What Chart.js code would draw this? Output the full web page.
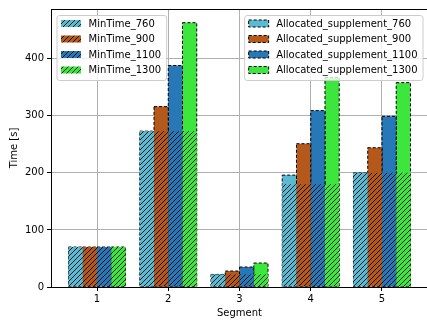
<!DOCTYPE html>
<html>
<head>
<meta charset="utf-8">
<script src="https://cdn.jsdelivr.net/npm/chart.js@4"></script>
<style>
  html, body { margin: 0; padding: 0; background: #fff; }
  #wrap { width: 427px; height: 322px; overflow: hidden; }
</style>
</head>
<body>
<div id="wrap"><canvas id="chart" width="435" height="322"></canvas></div>
<script>
const segments = [1, 2, 3, 4, 5];
const yTicks = [0, 100, 200, 300, 400];
const trains = ['760', '900', '1100', '1300'];
const colors = ['#5bbad2', '#b5581c', '#2878b7', '#3ce63c'];

// minimum running time per segment
const minTime760 = [70, 273, 22, 180, 200];
const minTime900 = [70, 273, 22, 180, 200];
const minTime1100 = [70, 273, 22, 180, 200];
const minTime1300 = [70, 273, 22, 180, 200];

// running time with the allocated supplement
const alloc760 = [70, 273, 22, 196, 200];
const alloc900 = [70, 316, 28, 251, 244];
const alloc1100 = [70, 388, 35, 309, 299];
const alloc1300 = [70, 463, 42, 367, 358];

const minTimes = [minTime760, minTime900, minTime1100, minTime1300];
const allocs = [alloc760, alloc900, alloc1100, alloc1300];

const FONT = '10px "DejaVu Sans"';
Chart.defaults.font.family = '"DejaVu Sans"';
Chart.defaults.font.size = 10;
Chart.defaults.color = '#000';

// "///" hatch on top of a fill colour
function hatch(color) {
    const p = 5;
    const c = document.createElement('canvas');
    c.width = p; c.height = p;
    const g = c.getContext('2d');
    g.fillStyle = color;
    g.fillRect(0, 0, p, p);
    g.strokeStyle = '#000';
    g.lineWidth = 0.85;
    g.beginPath();
    g.moveTo(-1, p + 1); g.lineTo(p + 1, -1);
    g.moveTo(-1, 1); g.lineTo(1, -1);
    g.moveTo(p - 1, p + 1); g.lineTo(p + 1, p - 1);
    g.stroke();
    return g.createPattern(c, 'repeat');
}

function points(arr) {
    return segments.map((s, i) => ({x: s, y: arr[i]}));
}

const datasets = [];
trains.forEach((t, i) => {
    datasets.push({
        label: 'MinTime_' + t,
        data: points(minTimes[i]),
        backgroundColor: hatch(colors[i]),
        borderWidth: 0,
        stack: t
    });
});
trains.forEach((t, i) => {
    datasets.push({
        label: 'Allocated_supplement_' + t,
        data: points(allocs[i]),
        backgroundColor: colors[i],
        borderWidth: 0,
        stack: t
    });
});

// dashed outline of the supplement bars, drawn before the hatched bars cover them
const dashedEdges = {
    id: 'dashedEdges',
    afterDatasetDraw(chart, args) {
        const ds = chart.data.datasets[args.index];
        if (!ds.label.startsWith('Allocated')) return;
        const ctx = chart.ctx;
        ctx.save();
        ctx.strokeStyle = '#000';
        ctx.lineWidth = 1;
        ctx.setLineDash([3, 2]);
        args.meta.data.forEach(bar => {
            const {x, y, base, width} = bar.getProps(['x', 'y', 'base', 'width'], true);
            ctx.strokeRect(x - width / 2, y, width, base - y);
        });
        ctx.restore();
    }
};

function roundRect(ctx, x, y, w, h, r) {
    ctx.beginPath();
    ctx.moveTo(x + r, y);
    ctx.lineTo(x + w - r, y);
    ctx.quadraticCurveTo(x + w, y, x + w, y + r);
    ctx.lineTo(x + w, y + h - r);
    ctx.quadraticCurveTo(x + w, y + h, x + w - r, y + h);
    ctx.lineTo(x + r, y + h);
    ctx.quadraticCurveTo(x, y + h, x, y + h - r);
    ctx.lineTo(x, y + r);
    ctx.quadraticCurveTo(x, y, x + r, y);
    ctx.closePath();
}

function drawLegend(ctx, items, anchorX, top, alignRight) {
    ctx.font = FONT;
    const pad = 4, hw = 20, hh = 7, gap = 8, step = 15.5;
    const tw = Math.max(...items.map(it => ctx.measureText(it.label).width));
    const w = pad + hw + gap + tw + pad + 1;
    const h = 65;
    const left = alignRight ? anchorX - w : anchorX;
    roundRect(ctx, left + 0.5, top + 0.5, w, h, 2.5);
    ctx.fillStyle = 'rgba(255,255,255,0.8)';
    ctx.fill();
    ctx.strokeStyle = '#cccccc';
    ctx.lineWidth = 1;
    ctx.stroke();
    items.forEach((it, i) => {
        const cy = top + 8.5 + i * step;
        const hx = left + pad + 0.5;
        ctx.fillStyle = it.fill;
        ctx.fillRect(hx, cy - hh / 2, hw, hh);
        if (it.dashed) {
            ctx.save();
            ctx.strokeStyle = '#000';
            ctx.setLineDash([3, 2]);
            ctx.strokeRect(hx, cy - hh / 2, hw, hh);
            ctx.restore();
        }
        ctx.fillStyle = '#000';
        ctx.textBaseline = 'middle';
        ctx.textAlign = 'left';
        ctx.fillText(it.label, left + pad + hw + gap, cy + 0.5);
    });
}

const frameAndLegends = {
    id: 'frameAndLegends',
    afterDraw(chart) {
        const ctx = chart.ctx;
        const a = chart.chartArea;
        ctx.save();
        ctx.strokeStyle = '#000';
        ctx.lineWidth = 1;
        ctx.beginPath();
        ctx.moveTo(a.left, Math.round(a.top) + 0.5);
        ctx.lineTo(a.right, Math.round(a.top) + 0.5);
        ctx.stroke();
        const ds = chart.data.datasets;
        drawLegend(ctx, ds.slice(0, 4).map(d => ({label: d.label, fill: d.backgroundColor, dashed: false})),
            a.left + 5.5, Math.round(a.top) + 6, false);
        drawLegend(ctx, ds.slice(4).map(d => ({label: d.label, fill: d.backgroundColor, dashed: true})),
            a.right - 5.5, Math.round(a.top) + 6, true);
        ctx.restore();
    }
};

const gridColor = '#b0b0b0';

new Chart(document.getElementById('chart').getContext('2d'), {
    type: 'bar',
    data: { datasets: datasets },
    plugins: [dashedEdges, frameAndLegends],
    options: {
        responsive: false,
        animation: false,
        devicePixelRatio: 1,
        categoryPercentage: 0.8,
        barPercentage: 1.0,
        layout: { padding: { top: 6, right: 7, left: 0, bottom: 0 } },
        plugins: { legend: { display: false }, tooltip: { enabled: false } },
        scales: {
            x: {
                type: 'linear',
                stacked: true,
                offset: false,
                min: 0.354,
                max: 5.646,
                z: 1,
                afterBuildTicks: s => { s.ticks = segments.map(v => ({value: v})); },
                afterFit: s => { s.height = 35; },
                grid: { offset: false, color: gridColor, lineWidth: 1, tickLength: 4, tickColor: '#000' },
                border: { color: '#000', width: 1 },
                ticks: { color: '#000', padding: 2, maxRotation: 0, autoSkip: false },
                title: { display: true, text: 'Segment', color: '#000', padding: { top: 0, bottom: 3 } }
            },
            y: {
                stacked: false,
                min: 0,
                max: 487,
                z: 1,
                afterBuildTicks: s => { s.ticks = yTicks.map(v => ({value: v})); },
                afterFit: s => { s.width = 51; },
                grid: { color: gridColor, lineWidth: 1, tickLength: 4, tickColor: '#000' },
                border: { color: '#000', width: 1 },
                ticks: { color: '#000', padding: 3 },
                title: { display: true, text: 'Time [s]', color: '#000', padding: { top: 8, bottom: 0 } }
            }
        }
    }
});
</script>
</body>
</html>
